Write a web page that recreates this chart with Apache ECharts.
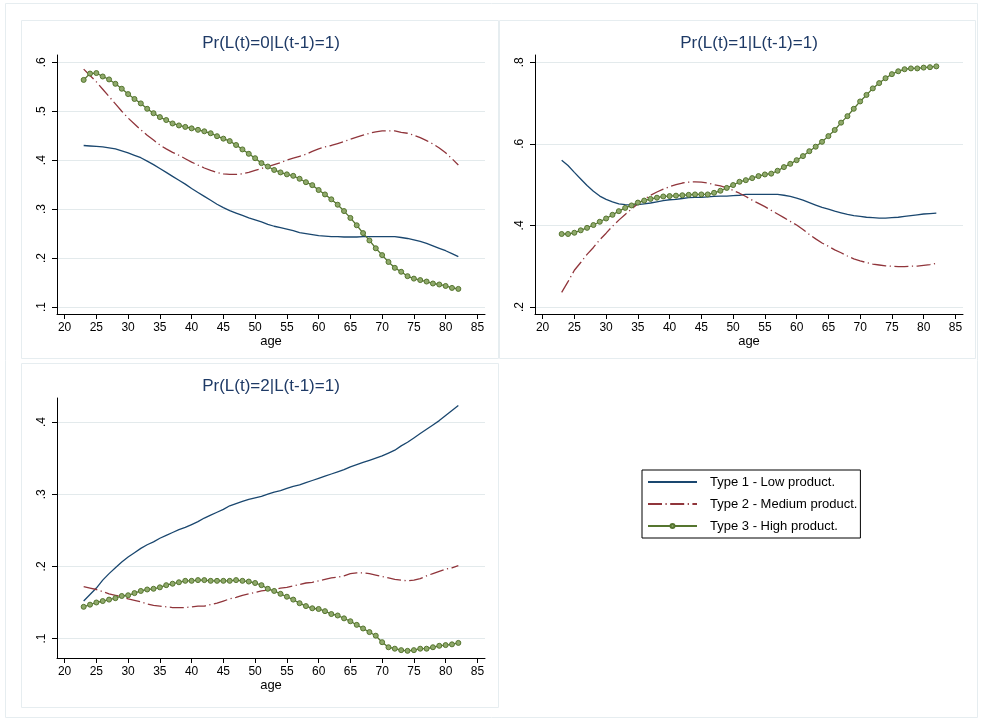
<!DOCTYPE html>
<html>
<head>
<meta charset="utf-8">
<script src="https://cdn.jsdelivr.net/npm/echarts@6/dist/echarts.min.js"></script>
<style>
  html, body { margin: 0; padding: 0; background: #fff; }
  #chart { width: 981px; height: 721px; }
</style>
</head>
<body>
<div id="chart"></div>
<script>
// Ages on the horizontal axis
const ages = [23, 24, 25, 26, 27, 28, 29, 30, 31, 32, 33, 34, 35, 36, 37, 38, 39, 40, 41, 42,
  43, 44, 45, 46, 47, 48, 49, 50, 51, 52, 53, 54, 55, 56, 57, 58, 59, 60, 61, 62,
  63, 64, 65, 66, 67, 68, 69, 70, 71, 72, 73, 74, 75, 76, 77, 78, 79, 80, 81, 82];

const xTicks = [20, 25, 30, 35, 40, 45, 50, 55, 60, 65, 70, 75, 80, 85];
const yTicks0 = [0.1, 0.2, 0.3, 0.4, 0.5, 0.6];
const yTicks1 = [0.2, 0.4, 0.6, 0.8];
const yTicks2 = [0.1, 0.2, 0.3, 0.4];

const seriesNames = ['Type 1 - Low product.', 'Type 2 - Medium product.', 'Type 3 - High product.'];
const panelTitles = ['Pr(L(t)=0|L(t-1)=1)', 'Pr(L(t)=1|L(t-1)=1)', 'Pr(L(t)=2|L(t-1)=1)'];

// Pr(L(t)=0 | L(t-1)=1)
const p0Low = [0.430, 0.429, 0.428, 0.427, 0.425, 0.423, 0.419, 0.415, 0.410, 0.405, 0.398, 0.391, 0.383, 0.375, 0.367,
  0.359, 0.351, 0.342, 0.334, 0.326, 0.318, 0.310, 0.303, 0.297, 0.292, 0.287, 0.282, 0.278, 0.274, 0.269,
  0.265, 0.262, 0.259, 0.256, 0.252, 0.250, 0.248, 0.246, 0.245, 0.244, 0.244, 0.243, 0.243, 0.243, 0.244,
  0.244, 0.244, 0.244, 0.244, 0.244, 0.242, 0.240, 0.237, 0.234, 0.230, 0.225, 0.220, 0.215, 0.209, 0.203];
const p0Med = [0.586, 0.573, 0.560, 0.545, 0.530, 0.515, 0.500, 0.486, 0.474, 0.462, 0.451, 0.441, 0.431, 0.423, 0.416,
  0.410, 0.403, 0.396, 0.390, 0.384, 0.379, 0.375, 0.372, 0.371, 0.371, 0.372, 0.375, 0.379, 0.383, 0.387,
  0.391, 0.395, 0.400, 0.404, 0.408, 0.412, 0.418, 0.423, 0.427, 0.430, 0.434, 0.438, 0.443, 0.447, 0.451,
  0.455, 0.458, 0.460, 0.460, 0.460, 0.457, 0.455, 0.451, 0.446, 0.440, 0.433, 0.425, 0.415, 0.403, 0.390];
const p0High = [0.564, 0.577, 0.578, 0.571, 0.565, 0.556, 0.546, 0.535, 0.525, 0.516, 0.505, 0.496, 0.488, 0.482, 0.475,
  0.471, 0.468, 0.465, 0.462, 0.459, 0.455, 0.449, 0.444, 0.439, 0.431, 0.422, 0.413, 0.404, 0.394, 0.387,
  0.380, 0.375, 0.371, 0.368, 0.362, 0.355, 0.349, 0.339, 0.330, 0.320, 0.309, 0.296, 0.282, 0.267, 0.251,
  0.236, 0.220, 0.206, 0.192, 0.180, 0.172, 0.163, 0.158, 0.155, 0.152, 0.148, 0.146, 0.143, 0.139, 0.137];

// Pr(L(t)=1 | L(t-1)=1)
const p1Low = [0.560, 0.547, 0.530, 0.514, 0.498, 0.484, 0.472, 0.464, 0.458, 0.453, 0.451, 0.450, 0.451, 0.453, 0.455,
  0.458, 0.461, 0.463, 0.464, 0.466, 0.468, 0.469, 0.469, 0.470, 0.471, 0.472, 0.472, 0.473, 0.474, 0.476,
  0.476, 0.476, 0.476, 0.476, 0.476, 0.474, 0.471, 0.467, 0.462, 0.456, 0.450, 0.444, 0.440, 0.435, 0.431,
  0.427, 0.424, 0.422, 0.420, 0.419, 0.418, 0.418, 0.419, 0.420, 0.422, 0.424, 0.426, 0.428, 0.429, 0.430];
const p1Med = [0.236, 0.262, 0.290, 0.309, 0.329, 0.346, 0.365, 0.381, 0.398, 0.413, 0.427, 0.440, 0.453, 0.464, 0.474,
  0.482, 0.489, 0.495, 0.500, 0.504, 0.506, 0.507, 0.506, 0.504, 0.500, 0.497, 0.492, 0.486, 0.479, 0.471,
  0.462, 0.454, 0.446, 0.437, 0.428, 0.419, 0.410, 0.401, 0.390, 0.378, 0.367, 0.357, 0.349, 0.340, 0.333,
  0.325, 0.318, 0.313, 0.309, 0.305, 0.303, 0.301, 0.300, 0.299, 0.299, 0.300, 0.300, 0.302, 0.304, 0.307];
const p1High = [0.379, 0.379, 0.382, 0.388, 0.394, 0.401, 0.409, 0.417, 0.426, 0.435, 0.443, 0.449, 0.456, 0.461, 0.465,
  0.468, 0.471, 0.472, 0.473, 0.474, 0.475, 0.476, 0.476, 0.476, 0.480, 0.485, 0.492, 0.499, 0.507, 0.511,
  0.516, 0.521, 0.525, 0.527, 0.534, 0.543, 0.551, 0.560, 0.570, 0.582, 0.593, 0.605, 0.619, 0.634, 0.652,
  0.668, 0.686, 0.704, 0.720, 0.736, 0.749, 0.761, 0.771, 0.778, 0.783, 0.785, 0.785, 0.787, 0.788, 0.790];

// Pr(L(t)=2 | L(t-1)=1)
const p2Low = [0.152, 0.161, 0.170, 0.181, 0.190, 0.198, 0.206, 0.213, 0.219, 0.225, 0.230, 0.234, 0.239, 0.243, 0.247,
  0.251, 0.254, 0.258, 0.262, 0.267, 0.271, 0.275, 0.279, 0.284, 0.287, 0.290, 0.293, 0.295, 0.297, 0.300,
  0.303, 0.305, 0.308, 0.311, 0.313, 0.316, 0.319, 0.322, 0.325, 0.328, 0.331, 0.334, 0.338, 0.341, 0.344,
  0.347, 0.350, 0.353, 0.357, 0.361, 0.367, 0.372, 0.378, 0.384, 0.390, 0.396, 0.402, 0.409, 0.416, 0.423];
const p2Med = [0.172, 0.170, 0.168, 0.165, 0.162, 0.160, 0.158, 0.155, 0.153, 0.151, 0.148, 0.146, 0.145, 0.144, 0.143,
  0.143, 0.143, 0.144, 0.145, 0.145, 0.147, 0.149, 0.152, 0.155, 0.157, 0.160, 0.162, 0.164, 0.166, 0.167,
  0.168, 0.170, 0.171, 0.173, 0.175, 0.177, 0.178, 0.180, 0.182, 0.184, 0.185, 0.187, 0.190, 0.191, 0.191,
  0.190, 0.188, 0.186, 0.184, 0.182, 0.181, 0.180, 0.181, 0.183, 0.187, 0.190, 0.193, 0.196, 0.198, 0.201];
const p2High = [0.144, 0.147, 0.150, 0.152, 0.154, 0.156, 0.159, 0.160, 0.163, 0.166, 0.168, 0.169, 0.171, 0.174, 0.176,
  0.178, 0.180, 0.180, 0.181, 0.181, 0.180, 0.180, 0.180, 0.180, 0.181, 0.180, 0.179, 0.177, 0.174, 0.169,
  0.166, 0.162, 0.158, 0.154, 0.149, 0.145, 0.142, 0.141, 0.138, 0.134, 0.132, 0.128, 0.124, 0.119, 0.114,
  0.109, 0.104, 0.095, 0.088, 0.086, 0.084, 0.083, 0.084, 0.086, 0.086, 0.088, 0.090, 0.091, 0.092, 0.094];

const FONT = 'Liberation Sans, Arial, Helvetica, sans-serif';
const NAVY = '#1a476f', MAROON = '#90353b', GREEN = '#55752f';
const GRID_COLOR = '#e3eaec';
const FRAME_COLOR = '#e6edf0';

// Plot regions: [left, top, width, height, yMin, yMax]
const panels = [
  { left: 57, top: 55, width: 428, height: 259, yMin: 0.0857, yMax: 0.6149, ticks: yTicks0,
    data: [p0Low, p0Med, p0High], title: panelTitles[0], tx: 271, ty: 43 },
  { left: 535, top: 55, width: 428, height: 259, yMin: 0.1828, yMax: 0.8179, ticks: yTicks1,
    data: [p1Low, p1Med, p1High], title: panelTitles[1], tx: 749, ty: 43 },
  { left: 57, top: 398, width: 428, height: 260, yMin: 0.0731, yMax: 0.4333, ticks: yTicks2,
    data: [p2Low, p2Med, p2High], title: panelTitles[2], tx: 271, ty: 386 }
];

const fmtY = v => Number(v).toFixed(1).replace(/^0/, '');

const grids = [], xAxes = [], yAxes = [], series = [], graphics = [];

// Outer frame and panel frames
graphics.push({ type: 'rect', shape: { x: 5.5, y: 3.5, width: 972, height: 714 },
  style: { fill: 'none', stroke: FRAME_COLOR, lineWidth: 1 }, silent: true });
[[21.5, 20.5, 477, 338], [499.5, 20.5, 476, 338], [21.5, 363.5, 477, 344]].forEach(r => {
  graphics.push({ type: 'rect', shape: { x: r[0], y: r[1], width: r[2], height: r[3] },
    style: { fill: 'none', stroke: FRAME_COLOR, lineWidth: 1 }, silent: true });
});

panels.forEach((p, i) => {
  grids.push({ left: p.left, top: p.top, width: p.width, height: p.height, containLabel: false });
  xAxes.push({
    gridIndex: i, type: 'value', min: 18.8, max: 86.2,
    name: 'age', nameLocation: 'middle', nameGap: 21,
    nameTextStyle: { fontFamily: FONT, fontSize: 13, color: '#000' },
    axisLine: { show: true, onZero: false, lineStyle: { color: '#000', width: 1 } },
    axisTick: { show: true, customValues: xTicks, length: 5, lineStyle: { color: '#000', width: 1 } },
    axisLabel: { show: true, customValues: xTicks, fontFamily: FONT, fontSize: 12, color: '#000', margin: 8 },
    splitLine: { show: false }
  });
  yAxes.push({
    gridIndex: i, type: 'value', min: p.yMin, max: p.yMax,
    axisLine: { show: true, onZero: false, lineStyle: { color: '#000', width: 1 } },
    axisTick: { show: true, customValues: p.ticks, length: 5, lineStyle: { color: '#000', width: 1 } },
    axisLabel: { show: true, customValues: p.ticks, rotate: 90, formatter: fmtY,
      fontFamily: FONT, fontSize: 12, color: '#000', margin: 9 },
    splitLine: { show: true, lineStyle: { color: GRID_COLOR, width: 1 } }
  });
  const pairs = arr => ages.map((a, k) => [a, arr[k]]);
  series.push({
    name: seriesNames[0], type: 'line', xAxisIndex: i, yAxisIndex: i,
    data: pairs(p.data[0]), symbol: 'none', smooth: false,
    lineStyle: { color: NAVY, width: 1.3 }, itemStyle: { color: NAVY }, z: 3
  });
  series.push({
    name: seriesNames[1], type: 'line', xAxisIndex: i, yAxisIndex: i,
    data: pairs(p.data[1]), symbol: 'none', smooth: false,
    lineStyle: { color: MAROON, width: 1.3, type: [14, 3.5, 1.2, 3.5] }, itemStyle: { color: MAROON }, z: 3
  });
  series.push({
    name: seriesNames[2], type: 'line', xAxisIndex: i, yAxisIndex: i,
    data: pairs(p.data[2]), symbol: 'circle', symbolSize: 5, showSymbol: true, smooth: false,
    lineStyle: { color: GREEN, width: 1.3 },
    itemStyle: { color: '#8fa96b', borderColor: GREEN, borderWidth: 1 }, z: 4
  });
  graphics.push({
    type: 'text', x: p.tx, y: p.ty, silent: true,
    style: { text: p.title, fill: '#1e3a66', font: '17px ' + FONT, textAlign: 'center', textVerticalAlign: 'middle' }
  });
});

const chart = echarts.init(document.getElementById('chart'), null, { renderer: 'canvas' });
chart.setOption({
  animation: false,
  backgroundColor: '#fff',
  grid: grids,
  xAxis: xAxes,
  yAxis: yAxes,
  series: series,
  legend: {
    data: [
      { name: seriesNames[0], itemStyle: { opacity: 0 } },
      { name: seriesNames[1], itemStyle: { opacity: 0 } },
      { name: seriesNames[2] }
    ],
    orient: 'vertical',
    left: 642, top: 470,
    itemWidth: 49, itemHeight: 5, itemGap: 8,
    padding: [5, 3, 5, 5],
    borderColor: '#000', borderWidth: 1,
    selectedMode: false,
    textStyle: { fontFamily: FONT, fontSize: 13, color: '#000', padding: [0, 0, 0, 8], lineHeight: 14 }
  },
  graphic: graphics
});
</script>
</body>
</html>
